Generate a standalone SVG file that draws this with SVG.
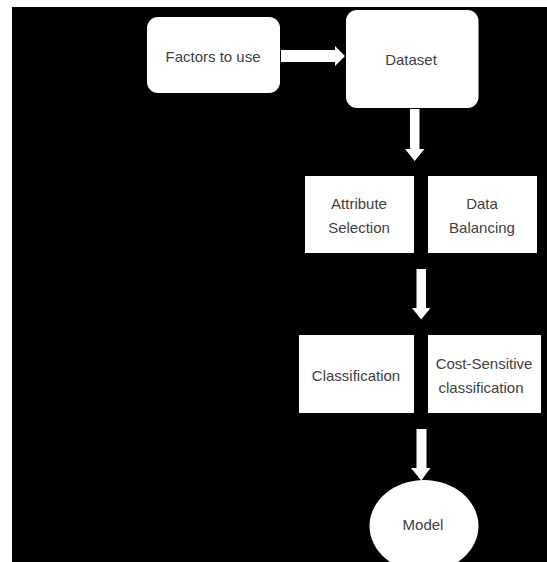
<svg xmlns="http://www.w3.org/2000/svg" width="547" height="562" viewBox="0 0 547 562">
<style>
.box{fill:#ffffff}
.lbl{font-family:"Liberation Sans",Arial,sans-serif;font-size:15px;fill:#404040;text-anchor:middle}
.arr{fill:#ffffff}
</style>
<rect x="0" y="0" width="547" height="562" fill="#ffffff"/>
<rect x="12" y="7" width="535" height="555" fill="#000000"/>
<g id="connectors">
<polygon class="arr" points="281,50 335,50 335,46 345,56 335,66 335,62 281,62"/>
<polygon class="arr" points="410,109 419.5,109 419.5,149 424.5,149 414.7,161 405,149 410,149"/>
<polygon class="arr" points="416.5,269 426,269 426,308 430.5,308 421.2,319.5 412,308 416.5,308"/>
<polygon class="arr" points="416.5,429 426.5,429 426.5,468 430.5,468 421.2,480.5 411,468 416.5,468"/>
</g>
<g id="factors">
<rect class="box" x="147" y="17" width="133" height="76" rx="11"/>
<text class="lbl" x="213" y="62">Factors to use</text>
</g>
<g id="dataset">
<rect class="box" x="346" y="10" width="132.5" height="98" rx="11"/>
<text class="lbl" x="411" y="65">Dataset</text>
</g>
<g id="attribute">
<rect class="box" x="305" y="176" width="109" height="77"/>
<text class="lbl" x="359" y="209">Attribute</text>
<text class="lbl" x="359" y="233">Selection</text>
</g>
<g id="balancing">
<rect class="box" x="428" y="176" width="109" height="77"/>
<text class="lbl" x="482" y="209">Data</text>
<text class="lbl" x="482" y="233">Balancing</text>
</g>
<g id="classification">
<rect class="box" x="299" y="335" width="115" height="78"/>
<text class="lbl" x="356" y="381">Classification</text>
</g>
<g id="costsensitive">
<rect class="box" x="428" y="335" width="113" height="78"/>
<text class="lbl" x="484" y="369">Cost-Sensitive</text>
<text class="lbl" x="481" y="393">classification</text>
</g>
<g id="model">
<ellipse class="box" cx="424" cy="526" rx="54.5" ry="46"/>
<text class="lbl" x="423" y="530">Model</text>
</g>
</svg>
